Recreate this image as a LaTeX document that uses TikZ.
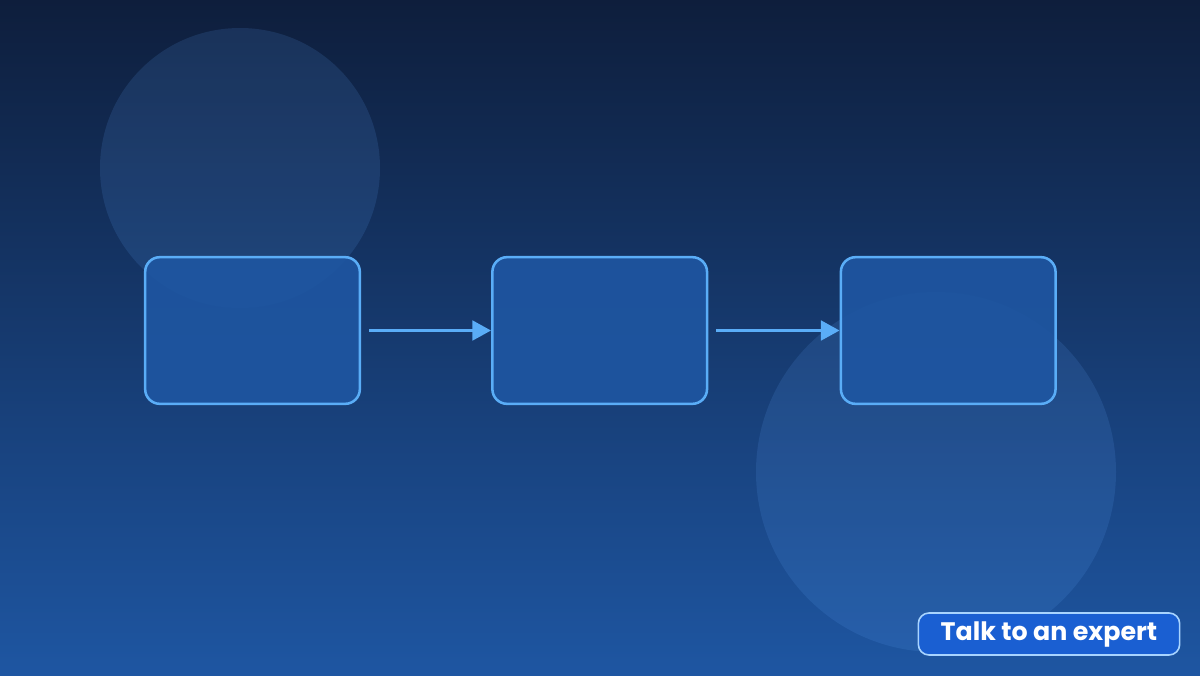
\documentclass[tikz,border=0pt]{standalone}
\usepackage{fontspec}
\setmainfont{Poppins}
\usetikzlibrary{arrows.meta, positioning}

\definecolor{bgtop}{HTML}{0E1E3C}
\definecolor{bgbottom}{HTML}{1E56A2}
\definecolor{boxfill}{HTML}{1E56A2}
\definecolor{boxline}{HTML}{5AADF7}
\definecolor{btnfill}{HTML}{1A5FD2}
\definecolor{btnline}{HTML}{A8D4FF}
\definecolor{bubblefill}{HTML}{60A5FA}

\tikzset{
    stage/.style={rectangle, rounded corners=11pt, draw=boxline, line width=1.9pt,
        fill=boxfill, fill opacity=0.9, minimum width=161pt, minimum height=110pt},
    flow/.style={draw=boxline, line width=2.8pt, shorten <=6pt,
        -{Triangle[length=14pt, width=14.5pt, fill=boxline]}},
    bubble/.style={fill=bubblefill, fill opacity=0.14},
}

\begin{document}
\begin{tikzpicture}[x=0.75pt, y=-0.75pt]
    \useasboundingbox (0,0) rectangle (1200,675);
    \shade[top color=bgtop, bottom color=bgbottom] (0,0) rectangle (1200,675);

    % background circles
    \fill[bubble] (240,168) circle (140);
    \fill[bubble] (936,472) circle (180);

    \node[stage] (first) at (252.5,330.5) {};
    \node[stage, right = 97.5pt of first] (second) {};
    \node[stage, right = 98.5pt of second] (third) {};

    \draw[flow] (first) -- (second);
    \draw[flow] (second) -- (third);

    \node[rectangle, rounded corners=8pt, fill=btnfill, draw=btnline, line width=1.2pt,
        minimum width=196pt, minimum height=31.5pt, text=white,
        font=\fontsize{19pt}{22pt}\selectfont\bfseries] (expert) at (1049,634) {Talk to an expert};
\end{tikzpicture}
\end{document}
